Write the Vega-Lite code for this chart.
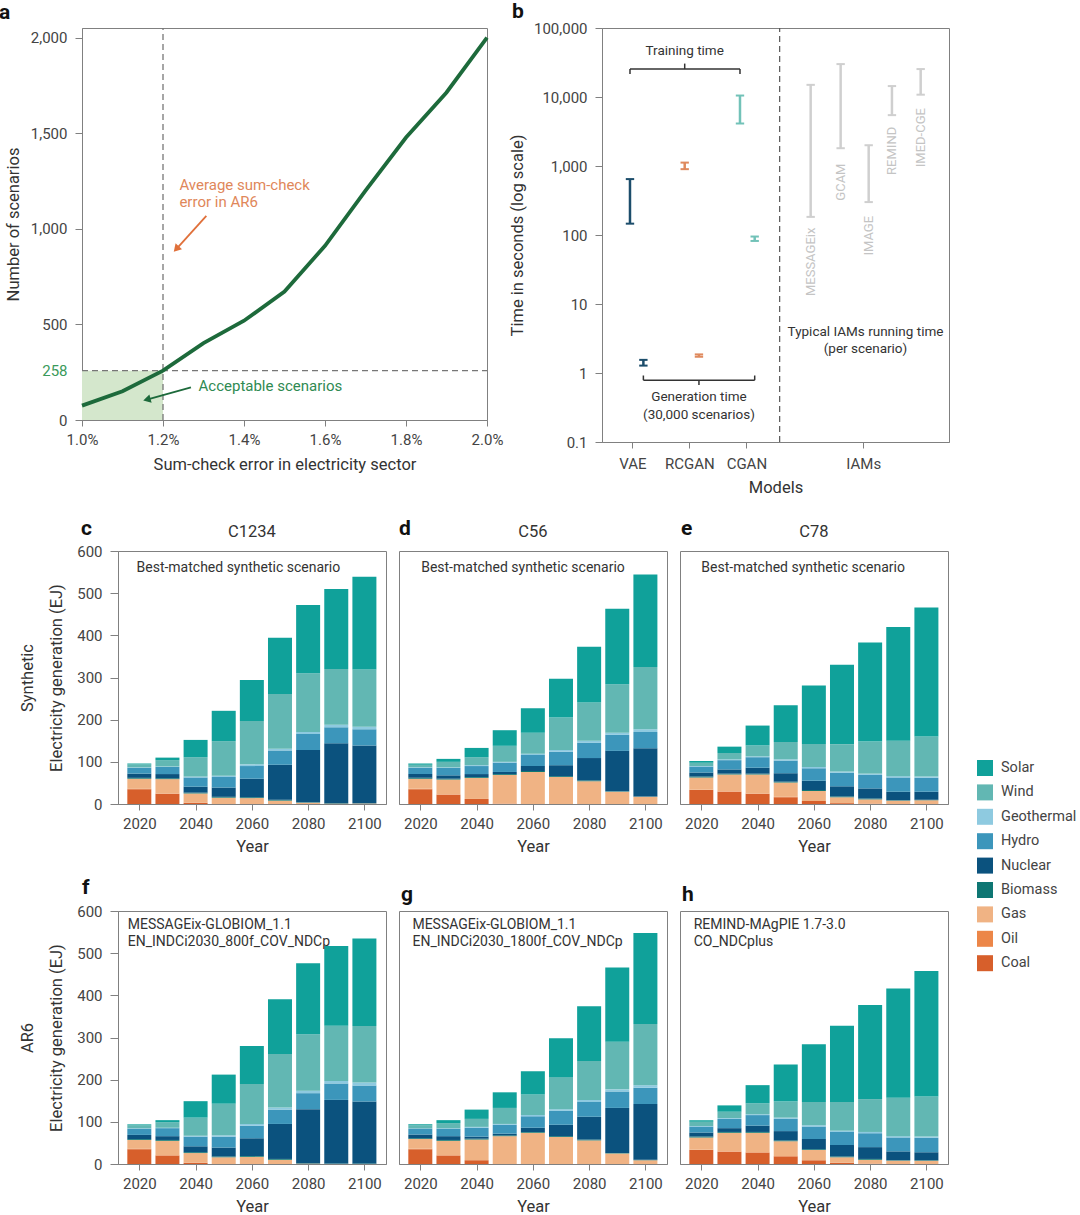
{
"$schema": "https://vega.github.io/schema/vega-lite/v6.json",
"background": "white",
"padding": {"left": -11, "top": 0, "right": 0, "bottom": 0},
"columns": 1,
"align": "none",
"spacing": 21,
"config": {
  "font": "Roboto",
  "view": {"stroke": "#808080", "strokeWidth": 1},
  "axis": {"domainColor": "#808080", "tickColor": "#808080", "labelColor": "#444444", "titleColor": "#333333", "labelFontSize": 15, "titleFontSize": 16.5, "titleFontWeight": "normal", "grid": false, "labelFlush": false},
  "title": {"fontSize": 21, "fontWeight": "bold", "anchor": "start", "frame": "group", "color": "#111111", "baseline": "alphabetic"},
  "text": {"color": "#333333"}
},
"datasets": {
  "sources": [
    {"Source": "Coal", "rank": 1}, {"Source": "Oil", "rank": 2}, {"Source": "Gas", "rank": 3},
    {"Source": "Biomass", "rank": 4}, {"Source": "Nuclear", "rank": 5}, {"Source": "Hydro", "rank": 6},
    {"Source": "Geothermal", "rank": 7}, {"Source": "Wind", "rank": 8}, {"Source": "Solar", "rank": 9}
  ],
  "bars": [
    {"p":"c","Year":2020,"Coal":35,"Oil":1,"Gas":24,"Biomass":2,"Nuclear":10,"Hydro":14,"Geothermal":1,"Wind":7,"Solar":2},
    {"p":"c","Year":2030,"Coal":24,"Oil":1,"Gas":34,"Biomass":2,"Nuclear":10,"Hydro":17,"Geothermal":1,"Wind":15,"Solar":6},
    {"p":"c","Year":2040,"Coal":3,"Oil":0,"Gas":22,"Biomass":2,"Nuclear":14,"Hydro":22,"Geothermal":2,"Wind":46,"Solar":41},
    {"p":"c","Year":2050,"Coal":0,"Oil":0,"Gas":15,"Biomass":2,"Nuclear":22,"Hydro":25,"Geothermal":3,"Wind":82,"Solar":72},
    {"p":"c","Year":2060,"Coal":0,"Oil":0,"Gas":14,"Biomass":2,"Nuclear":44,"Hydro":30,"Geothermal":4,"Wind":103,"Solar":97},
    {"p":"c","Year":2070,"Coal":0,"Oil":0,"Gas":8,"Biomass":2,"Nuclear":83,"Hydro":34,"Geothermal":4,"Wind":130,"Solar":133},
    {"p":"c","Year":2080,"Coal":0,"Oil":0,"Gas":3,"Biomass":1,"Nuclear":124,"Hydro":38,"Geothermal":5,"Wind":139,"Solar":162},
    {"p":"c","Year":2090,"Coal":0,"Oil":0,"Gas":1,"Biomass":1,"Nuclear":142,"Hydro":38,"Geothermal":6,"Wind":132,"Solar":190},
    {"p":"c","Year":2100,"Coal":0,"Oil":0,"Gas":1,"Biomass":1,"Nuclear":137,"Hydro":38,"Geothermal":6,"Wind":136,"Solar":220},
    {"p":"d","Year":2020,"Coal":35,"Oil":1,"Gas":24,"Biomass":2,"Nuclear":9,"Hydro":15,"Geothermal":1,"Wind":6,"Solar":3},
    {"p":"d","Year":2030,"Coal":22,"Oil":1,"Gas":35,"Biomass":2,"Nuclear":8,"Hydro":18,"Geothermal":1,"Wind":13,"Solar":7},
    {"p":"d","Year":2040,"Coal":12,"Oil":0,"Gas":50,"Biomass":2,"Nuclear":7,"Hydro":19,"Geothermal":2,"Wind":19,"Solar":22},
    {"p":"d","Year":2050,"Coal":1,"Oil":0,"Gas":68,"Biomass":2,"Nuclear":5,"Hydro":22,"Geothermal":2,"Wind":38,"Solar":37},
    {"p":"d","Year":2060,"Coal":0,"Oil":0,"Gas":76,"Biomass":2,"Nuclear":12,"Hydro":26,"Geothermal":3,"Wind":50,"Solar":58},
    {"p":"d","Year":2070,"Coal":0,"Oil":0,"Gas":64,"Biomass":2,"Nuclear":26,"Hydro":32,"Geothermal":4,"Wind":77,"Solar":92},
    {"p":"d","Year":2080,"Coal":0,"Oil":0,"Gas":54,"Biomass":2,"Nuclear":53,"Hydro":36,"Geothermal":5,"Wind":91,"Solar":132},
    {"p":"d","Year":2090,"Coal":0,"Oil":0,"Gas":29,"Biomass":1,"Nuclear":96,"Hydro":38,"Geothermal":5,"Wind":115,"Solar":179},
    {"p":"d","Year":2100,"Coal":0,"Oil":0,"Gas":17,"Biomass":1,"Nuclear":114,"Hydro":39,"Geothermal":6,"Wind":148,"Solar":219},
    {"p":"e","Year":2020,"Coal":33,"Oil":1,"Gas":29,"Biomass":2,"Nuclear":10,"Hydro":14,"Geothermal":1,"Wind":8,"Solar":4},
    {"p":"e","Year":2030,"Coal":29,"Oil":1,"Gas":40,"Biomass":2,"Nuclear":10,"Hydro":22,"Geothermal":2,"Wind":15,"Solar":15},
    {"p":"e","Year":2040,"Coal":24,"Oil":1,"Gas":45,"Biomass":2,"Nuclear":14,"Hydro":25,"Geothermal":2,"Wind":26,"Solar":47},
    {"p":"e","Year":2050,"Coal":16,"Oil":1,"Gas":34,"Biomass":2,"Nuclear":20,"Hydro":30,"Geothermal":3,"Wind":41,"Solar":87},
    {"p":"e","Year":2060,"Coal":7,"Oil":0,"Gas":24,"Biomass":2,"Nuclear":22,"Hydro":30,"Geothermal":3,"Wind":54,"Solar":139},
    {"p":"e","Year":2070,"Coal":2,"Oil":0,"Gas":14,"Biomass":2,"Nuclear":24,"Hydro":32,"Geothermal":3,"Wind":65,"Solar":188},
    {"p":"e","Year":2080,"Coal":1,"Oil":0,"Gas":10,"Biomass":2,"Nuclear":24,"Hydro":32,"Geothermal":3,"Wind":76,"Solar":235},
    {"p":"e","Year":2090,"Coal":0,"Oil":0,"Gas":8,"Biomass":1,"Nuclear":20,"Hydro":34,"Geothermal":3,"Wind":84,"Solar":270},
    {"p":"e","Year":2100,"Coal":0,"Oil":0,"Gas":9,"Biomass":1,"Nuclear":19,"Hydro":33,"Geothermal":3,"Wind":95,"Solar":306},
    {"p":"f","Year":2020,"Coal":35,"Oil":1,"Gas":21,"Biomass":2,"Nuclear":10,"Hydro":15,"Geothermal":1,"Wind":7,"Solar":2},
    {"p":"f","Year":2030,"Coal":20,"Oil":1,"Gas":34,"Biomass":2,"Nuclear":9,"Hydro":19,"Geothermal":1,"Wind":13,"Solar":5},
    {"p":"f","Year":2040,"Coal":3,"Oil":0,"Gas":23,"Biomass":2,"Nuclear":14,"Hydro":23,"Geothermal":2,"Wind":43,"Solar":39},
    {"p":"f","Year":2050,"Coal":0,"Oil":0,"Gas":16,"Biomass":2,"Nuclear":21,"Hydro":26,"Geothermal":3,"Wind":75,"Solar":69},
    {"p":"f","Year":2060,"Coal":0,"Oil":0,"Gas":17,"Biomass":2,"Nuclear":42,"Hydro":30,"Geothermal":4,"Wind":95,"Solar":90},
    {"p":"f","Year":2070,"Coal":0,"Oil":0,"Gas":10,"Biomass":2,"Nuclear":83,"Hydro":34,"Geothermal":5,"Wind":127,"Solar":130},
    {"p":"f","Year":2080,"Coal":0,"Oil":0,"Gas":1,"Biomass":1,"Nuclear":128,"Hydro":38,"Geothermal":6,"Wind":134,"Solar":168},
    {"p":"f","Year":2090,"Coal":0,"Oil":0,"Gas":0,"Biomass":1,"Nuclear":151,"Hydro":39,"Geothermal":6,"Wind":131,"Solar":189},
    {"p":"f","Year":2100,"Coal":0,"Oil":0,"Gas":0,"Biomass":1,"Nuclear":147,"Hydro":38,"Geothermal":7,"Wind":134,"Solar":208},
    {"p":"g","Year":2020,"Coal":35,"Oil":1,"Gas":23,"Biomass":2,"Nuclear":9,"Hydro":14,"Geothermal":1,"Wind":7,"Solar":2},
    {"p":"g","Year":2030,"Coal":20,"Oil":1,"Gas":34,"Biomass":2,"Nuclear":9,"Hydro":18,"Geothermal":1,"Wind":12,"Solar":7},
    {"p":"g","Year":2040,"Coal":9,"Oil":0,"Gas":49,"Biomass":2,"Nuclear":5,"Hydro":21,"Geothermal":2,"Wind":19,"Solar":22},
    {"p":"g","Year":2050,"Coal":0,"Oil":0,"Gas":66,"Biomass":2,"Nuclear":4,"Hydro":21,"Geothermal":2,"Wind":38,"Solar":37},
    {"p":"g","Year":2060,"Coal":0,"Oil":0,"Gas":74,"Biomass":2,"Nuclear":10,"Hydro":27,"Geothermal":3,"Wind":49,"Solar":55},
    {"p":"g","Year":2070,"Coal":0,"Oil":0,"Gas":64,"Biomass":2,"Nuclear":27,"Hydro":33,"Geothermal":4,"Wind":76,"Solar":92},
    {"p":"g","Year":2080,"Coal":0,"Oil":0,"Gas":56,"Biomass":2,"Nuclear":54,"Hydro":35,"Geothermal":5,"Wind":92,"Solar":130},
    {"p":"g","Year":2090,"Coal":0,"Oil":0,"Gas":25,"Biomass":1,"Nuclear":107,"Hydro":39,"Geothermal":5,"Wind":113,"Solar":176},
    {"p":"g","Year":2100,"Coal":0,"Oil":0,"Gas":9,"Biomass":1,"Nuclear":132,"Hydro":39,"Geothermal":6,"Wind":145,"Solar":216},
    {"p":"h","Year":2020,"Coal":33,"Oil":1,"Gas":29,"Biomass":2,"Nuclear":10,"Hydro":14,"Geothermal":1,"Wind":10,"Solar":4},
    {"p":"h","Year":2030,"Coal":29,"Oil":1,"Gas":44,"Biomass":2,"Nuclear":9,"Hydro":22,"Geothermal":2,"Wind":15,"Solar":15},
    {"p":"h","Year":2040,"Coal":27,"Oil":1,"Gas":46,"Biomass":2,"Nuclear":15,"Hydro":25,"Geothermal":2,"Wind":26,"Solar":43},
    {"p":"h","Year":2050,"Coal":18,"Oil":1,"Gas":35,"Biomass":2,"Nuclear":22,"Hydro":29,"Geothermal":3,"Wind":38,"Solar":88},
    {"p":"h","Year":2060,"Coal":9,"Oil":0,"Gas":24,"Biomass":2,"Nuclear":24,"Hydro":30,"Geothermal":3,"Wind":55,"Solar":137},
    {"p":"h","Year":2070,"Coal":3,"Oil":0,"Gas":13,"Biomass":2,"Nuclear":27,"Hydro":31,"Geothermal":3,"Wind":68,"Solar":181},
    {"p":"h","Year":2080,"Coal":1,"Oil":0,"Gas":9,"Biomass":2,"Nuclear":28,"Hydro":33,"Geothermal":3,"Wind":78,"Solar":223},
    {"p":"h","Year":2090,"Coal":0,"Oil":0,"Gas":8,"Biomass":1,"Nuclear":21,"Hydro":33,"Geothermal":3,"Wind":91,"Solar":259},
    {"p":"h","Year":2100,"Coal":0,"Oil":0,"Gas":8,"Biomass":1,"Nuclear":19,"Hydro":34,"Geothermal":3,"Wind":95,"Solar":298}
  ],
  "runtime": [
    {"g":"VAE","m":0.958,"t":146,"t2":646},
    {"g":"VAE","m":1.193,"t":1.28,"t2":1.55},
    {"g":"RCGAN","m":1.918,"t":900,"t2":1120},
    {"g":"RCGAN","m":2.168,"t":1.72,"t2":1.86},
    {"g":"CGAN","m":2.888,"t":4130,"t2":10500},
    {"g":"CGAN","m":3.146,"t":82,"t2":95},
    {"g":"IAM","m":4.128,"t":183,"t2":15000},
    {"g":"IAM","m":4.654,"t":1810,"t2":30000},
    {"g":"IAM","m":5.146,"t":300,"t2":2000},
    {"g":"IAM","m":5.554,"t":5460,"t2":14400},
    {"g":"IAM","m":6.058,"t":10800,"t2":25400}
  ]
},
"concat": [
  {"spacing": 4, "hconcat": [
    {"width": 3, "height": 1, "view": {"stroke": "white"}, "data": {"values": []}, "mark": "point"},
    {"width": 405, "height": 392,
     "title": {"text": "a", "dx": -83, "offset": 4},
     "layer": [
      {"data": {"values": [{"err": 1.0, "err2": 1.2, "n": 0, "n2": 258}]},
       "mark": {"type": "rect", "color": "#d4e7cc"},
       "encoding": {
        "x": {"field": "err", "type": "quantitative", "scale": {"domain": [1, 2], "nice": false, "zero": false},
              "axis": {"values": [1, 1.2, 1.4, 1.6, 1.8, 2], "labelExpr": "format(datum.value, '.1f') + '%'", "title": "Sum-check error in electricity sector", "tickSize": 6, "labelPadding": 6, "titlePadding": 9}},
        "x2": {"field": "err2"},
        "y": {"field": "n", "type": "quantitative", "scale": {"domain": [0, 2050], "nice": false},
              "axis": {"values": [0, 258, 500, 1000, 1500, 2000], "format": ",d", "title": "Number of scenarios", "tickSize": 7, "labelPadding": 8, "titlePadding": 9,
                       "labelColor": {"condition": {"test": "datum.value == 258", "value": "#3a9a5b"}, "value": "#444444"},
                       "tickOpacity": {"condition": {"test": "datum.value == 258", "value": 0}, "value": 1}}},
        "y2": {"field": "n2"}}},
      {"data": {"values": [{"err": 1.2, "err2": 1.2, "n": 0, "n2": 2050}, {"err": 1.0, "err2": 2.0, "n": 258, "n2": 258}]},
       "mark": {"type": "rule", "color": "#777777", "strokeDash": [6, 4], "strokeWidth": 1.3},
       "encoding": {"x": {"field": "err", "type": "quantitative"}, "x2": {"field": "err2"}, "y": {"field": "n", "type": "quantitative"}, "y2": {"field": "n2"}}},
      {"data": {"values": [
         {"err": 1.0, "n": 75}, {"err": 1.1, "n": 150}, {"err": 1.2, "n": 258}, {"err": 1.3, "n": 402},
         {"err": 1.4, "n": 519}, {"err": 1.5, "n": 672}, {"err": 1.6, "n": 911}, {"err": 1.7, "n": 1200},
         {"err": 1.8, "n": 1477}, {"err": 1.9, "n": 1713}, {"err": 2.0, "n": 2000}]},
       "mark": {"type": "line", "color": "#1d6a3b", "strokeWidth": 3.8},
       "encoding": {"x": {"field": "err", "type": "quantitative"}, "y": {"field": "n", "type": "quantitative"}}},
      {"data": {"values": [{"err": 1.307, "err2": 1.2328, "n": 1068, "n2": 894}]},
       "mark": {"type": "rule", "color": "#e0703a", "strokeWidth": 1.8},
       "encoding": {"x": {"field": "err", "type": "quantitative"}, "x2": {"field": "err2"}, "y": {"field": "n", "type": "quantitative"}, "y2": {"field": "n2"}}},
      {"data": {"values": [{"err": 1.2328, "n": 894}]},
       "mark": {"type": "point", "shape": "triangle-up", "filled": true, "size": 75, "angle": 222, "color": "#e0703a", "opacity": 1},
       "encoding": {"x": {"field": "err", "type": "quantitative"}, "y": {"field": "n", "type": "quantitative"}}},
      {"data": {"values": [{"err": 1.269, "err2": 1.1602, "n": 170, "n2": 107}]},
       "mark": {"type": "rule", "color": "#1d6a3b", "strokeWidth": 1.8},
       "encoding": {"x": {"field": "err", "type": "quantitative"}, "x2": {"field": "err2"}, "y": {"field": "n", "type": "quantitative"}, "y2": {"field": "n2"}}},
      {"data": {"values": [{"err": 1.1602, "n": 107}]},
       "mark": {"type": "point", "shape": "triangle-up", "filled": true, "size": 75, "angle": 255, "color": "#1d6a3b", "opacity": 1},
       "encoding": {"x": {"field": "err", "type": "quantitative"}, "y": {"field": "n", "type": "quantitative"}}},
      {"data": {"values": [{"err": 1.2405, "n": 1230, "s": "Average sum-check"}, {"err": 1.2405, "n": 1141, "s": "error in AR6"}]},
       "mark": {"type": "text", "align": "left", "baseline": "middle", "fontSize": 15, "color": "#e0875a"},
       "encoding": {"x": {"field": "err", "type": "quantitative"}, "y": {"field": "n", "type": "quantitative"}, "text": {"field": "s"}}},
      {"data": {"values": [{"err": 1.2877, "n": 180, "s": "Acceptable scenarios"}]},
       "mark": {"type": "text", "align": "left", "baseline": "middle", "fontSize": 15, "color": "#2f8a52"},
       "encoding": {"x": {"field": "err", "type": "quantitative"}, "y": {"field": "n", "type": "quantitative"}, "text": {"field": "s"}}}
     ]},
    {"width": 347, "height": 414,
     "title": {"text": "b", "dx": -90, "offset": -1},
     "layer": [
      {"data": {"values": [{"m": 3.584, "t": 0.1, "t2": 100000}]},
       "mark": {"type": "rule", "color": "#555555", "strokeDash": [6, 4], "strokeWidth": 1.2},
       "encoding": {
        "x": {"field": "m", "type": "quantitative", "scale": {"domain": [0.467, 6.555], "nice": false, "zero": false},
              "axis": {"values": [1, 2, 3, 5.05], "labelExpr": "datum.value < 1.5 ? 'VAE' : datum.value < 2.5 ? 'RCGAN' : datum.value < 4 ? 'CGAN' : 'IAMs'", "title": "Models", "tickSize": 6, "labelPadding": 8, "titlePadding": 8}},
        "y": {"field": "t", "type": "quantitative", "scale": {"type": "log", "domain": [0.1, 100000], "nice": false},
              "axis": {"values": [0.1, 1, 10, 100, 1000, 10000, 100000], "format": ",.1~f", "title": "Time in seconds (log scale)", "tickSize": 7, "labelPadding": 8, "titlePadding": 8}},
        "y2": {"field": "t2"}}},
      {"data": {"values": [
         {"m": 0.958, "m2": 2.888, "t": 25400, "t2": 25400},
         {"m": 0.958, "m2": 0.958, "t": 25400, "t2": 21500},
         {"m": 2.888, "m2": 2.888, "t": 25400, "t2": 21500},
         {"m": 1.918, "m2": 1.918, "t": 25400, "t2": 30500},
         {"m": 1.193, "m2": 3.146, "t": 0.787, "t2": 0.787},
         {"m": 1.193, "m2": 1.193, "t": 0.787, "t2": 0.92},
         {"m": 3.146, "m2": 3.146, "t": 0.787, "t2": 0.92},
         {"m": 2.168, "m2": 2.168, "t": 0.787, "t2": 0.67}]},
       "mark": {"type": "rule", "color": "#333333", "strokeWidth": 1.5},
       "encoding": {"x": {"field": "m", "type": "quantitative"}, "x2": {"field": "m2"}, "y": {"field": "t", "type": "quantitative"}, "y2": {"field": "t2"}}},
      {"data": {"name": "runtime"},
       "mark": {"type": "rule", "strokeWidth": 2.5},
       "encoding": {"x": {"field": "m", "type": "quantitative"}, "y": {"field": "t", "type": "quantitative"}, "y2": {"field": "t2"},
        "stroke": {"field": "g", "type": "nominal", "scale": {"domain": ["VAE", "RCGAN", "CGAN", "IAM"], "range": ["#1c4d6b", "#df8a5e", "#72c2b8", "#cfcfcf"]}, "legend": null}}},
      {"data": {"name": "runtime"},
       "mark": {"type": "point", "shape": "stroke", "size": 70, "strokeWidth": 2, "opacity": 1},
       "encoding": {"x": {"field": "m", "type": "quantitative"}, "y": {"field": "t", "type": "quantitative"},
        "stroke": {"field": "g", "type": "nominal", "legend": null}}},
      {"data": {"name": "runtime"},
       "mark": {"type": "point", "shape": "stroke", "size": 70, "strokeWidth": 2, "opacity": 1},
       "encoding": {"x": {"field": "m", "type": "quantitative"}, "y": {"field": "t2", "type": "quantitative"},
        "stroke": {"field": "g", "type": "nominal", "legend": null}}},
      {"data": {"values": [
         {"m": 4.128, "t": 128, "s": "MESSAGEix"}, {"m": 4.654, "t": 1086, "s": "GCAM"}, {"m": 5.146, "t": 189, "s": "IMAGE"},
         {"m": 5.554, "t": 3700, "s": "REMIND"}, {"m": 6.058, "t": 6900, "s": "IMED-CGE"}]},
       "mark": {"type": "text", "angle": 270, "align": "right", "baseline": "middle", "fontSize": 13, "color": "#c4c4c4"},
       "encoding": {"x": {"field": "m", "type": "quantitative"}, "y": {"field": "t", "type": "quantitative"}, "text": {"field": "s"}}},
      {"data": {"values": [
         {"m": 1.918, "t": 46900, "s": "Training time"},
         {"m": 2.168, "t": 0.45, "s": "Generation time"},
         {"m": 2.168, "t": 0.25, "s": "(30,000 scenarios)"},
         {"m": 5.09, "t": 3.98, "s": "Typical IAMs running time"},
         {"m": 5.09, "t": 2.25, "s": "(per scenario)"}]},
       "mark": {"type": "text", "baseline": "middle", "fontSize": 13.5, "color": "#333333"},
       "encoding": {"x": {"field": "m", "type": "quantitative"}, "y": {"field": "t", "type": "quantitative"}, "text": {"field": "s"}}}
     ]}
  ]},
  {"spacing": 11, "hconcat": [
    {"width": 17, "height": 1, "view": {"stroke": "white"}, "data": {"values": []}, "mark": "point"},
    {"width": 268, "height": 253,
     "title": {"text": "c", "dx": -37, "offset": -15},
     "layer": [
      {"data": {"name": "bars"},
       "transform": [{"filter": "datum.p == 'c'"}, {"fold": ["Coal", "Oil", "Gas", "Biomass", "Nuclear", "Hydro", "Geothermal", "Wind", "Solar"], "as": ["Source", "EJ"]},
                     {"lookup": "Source", "from": {"data": {"name": "sources"}, "key": "Source", "fields": ["rank"]}}],
       "mark": {"type": "bar", "size": 24},
       "encoding": {
        "x": {"field": "Year", "type": "quantitative", "scale": {"domain": [2014.2, 2105.9], "nice": false, "zero": false},
              "axis": {"values": [2020, 2040, 2060, 2080, 2100], "format": "d", "title": "Year", "tickSize": 6, "labelPadding": 6, "titlePadding": 7}},
        "y": {"field": "EJ", "type": "quantitative", "stack": "zero", "scale": {"domain": [0, 600], "nice": false},
              "axis": {"values": [0, 100, 200, 300, 400, 500, 600], "title": ["Synthetic", "Electricity generation (EJ)"], "titleLineHeight": 29, "tickSize": 8, "labelPadding": 8, "titlePadding": 12}},
        "order": {"field": "rank", "type": "quantitative", "sort": "ascending"},
        "color": {"field": "Source", "type": "nominal",
                  "scale": {"domain": ["Solar", "Wind", "Geothermal", "Hydro", "Nuclear", "Biomass", "Gas", "Oil", "Coal"], "range": ["#10a19a", "#62b7b3", "#8ecae0", "#3c96bb", "#0b527e", "#0e7673", "#f0b384", "#ec8648", "#d75f2b"]},
                  "legend": {"orient": "none", "legendX": 987, "legendY": 732, "title": null, "symbolType": "square", "symbolSize": 256, "symbolStrokeWidth": 0, "labelFontSize": 14.5, "labelColor": "#444444", "rowPadding": 8.4, "labelOffset": 8, "padding": 0}}}},
      {"data": {"values": [{"Year": 2019, "EJ": 560, "s": "Best-matched synthetic scenario"}]},
       "mark": {"type": "text", "align": "left", "baseline": "middle", "fontSize": 14},
       "encoding": {"x": {"field": "Year", "type": "quantitative"}, "y": {"field": "EJ", "type": "quantitative"}, "text": {"field": "s"}}},
      {"data": {"values": [{"Year": 2060, "EJ": 600, "s": "C1234"}]},
       "mark": {"type": "text", "baseline": "alphabetic", "dy": -14, "fontSize": 16.5},
       "encoding": {"x": {"field": "Year", "type": "quantitative"}, "y": {"field": "EJ", "type": "quantitative"}, "text": {"field": "s"}}}
     ]},
    {"width": 268, "height": 253,
     "title": {"text": "d", "dx": 0, "offset": -15},
     "layer": [
      {"data": {"name": "bars"},
       "transform": [{"filter": "datum.p == 'd'"}, {"fold": ["Coal", "Oil", "Gas", "Biomass", "Nuclear", "Hydro", "Geothermal", "Wind", "Solar"], "as": ["Source", "EJ"]},
                     {"lookup": "Source", "from": {"data": {"name": "sources"}, "key": "Source", "fields": ["rank"]}}],
       "mark": {"type": "bar", "size": 24},
       "encoding": {
        "x": {"field": "Year", "type": "quantitative", "scale": {"domain": [2014.2, 2105.9], "nice": false, "zero": false},
              "axis": {"values": [2020, 2040, 2060, 2080, 2100], "format": "d", "title": "Year", "tickSize": 6, "labelPadding": 6, "titlePadding": 7}},
        "y": {"field": "EJ", "type": "quantitative", "stack": "zero", "scale": {"domain": [0, 600], "nice": false}, "axis": null},
        "order": {"field": "rank", "type": "quantitative", "sort": "ascending"},
        "color": {"field": "Source", "type": "nominal",
                  "scale": {"domain": ["Solar", "Wind", "Geothermal", "Hydro", "Nuclear", "Biomass", "Gas", "Oil", "Coal"], "range": ["#10a19a", "#62b7b3", "#8ecae0", "#3c96bb", "#0b527e", "#0e7673", "#f0b384", "#ec8648", "#d75f2b"]},
                  "legend": {"orient": "none", "legendX": 987, "legendY": 732, "title": null, "symbolType": "square", "symbolSize": 256, "symbolStrokeWidth": 0, "labelFontSize": 14.5, "labelColor": "#444444", "rowPadding": 8.4, "labelOffset": 8, "padding": 0}}}},
      {"data": {"values": [{"Year": 2020.3, "EJ": 560, "s": "Best-matched synthetic scenario"}]},
       "mark": {"type": "text", "align": "left", "baseline": "middle", "fontSize": 14},
       "encoding": {"x": {"field": "Year", "type": "quantitative"}, "y": {"field": "EJ", "type": "quantitative"}, "text": {"field": "s"}}},
      {"data": {"values": [{"Year": 2060, "EJ": 600, "s": "C56"}]},
       "mark": {"type": "text", "baseline": "alphabetic", "dy": -14, "fontSize": 16.5},
       "encoding": {"x": {"field": "Year", "type": "quantitative"}, "y": {"field": "EJ", "type": "quantitative"}, "text": {"field": "s"}}}
     ]},
    {"width": 268, "height": 253,
     "title": {"text": "e", "dx": 1, "offset": -15},
     "layer": [
      {"data": {"name": "bars"},
       "transform": [{"filter": "datum.p == 'e'"}, {"fold": ["Coal", "Oil", "Gas", "Biomass", "Nuclear", "Hydro", "Geothermal", "Wind", "Solar"], "as": ["Source", "EJ"]},
                     {"lookup": "Source", "from": {"data": {"name": "sources"}, "key": "Source", "fields": ["rank"]}}],
       "mark": {"type": "bar", "size": 24},
       "encoding": {
        "x": {"field": "Year", "type": "quantitative", "scale": {"domain": [2014.2, 2105.9], "nice": false, "zero": false},
              "axis": {"values": [2020, 2040, 2060, 2080, 2100], "format": "d", "title": "Year", "tickSize": 6, "labelPadding": 6, "titlePadding": 7}},
        "y": {"field": "EJ", "type": "quantitative", "stack": "zero", "scale": {"domain": [0, 600], "nice": false}, "axis": null},
        "order": {"field": "rank", "type": "quantitative", "sort": "ascending"},
        "color": {"field": "Source", "type": "nominal",
                  "scale": {"domain": ["Solar", "Wind", "Geothermal", "Hydro", "Nuclear", "Biomass", "Gas", "Oil", "Coal"], "range": ["#10a19a", "#62b7b3", "#8ecae0", "#3c96bb", "#0b527e", "#0e7673", "#f0b384", "#ec8648", "#d75f2b"]},
                  "legend": {"orient": "none", "legendX": 987, "legendY": 732, "title": null, "symbolType": "square", "symbolSize": 256, "symbolStrokeWidth": 0, "labelFontSize": 14.5, "labelColor": "#444444", "rowPadding": 8.4, "labelOffset": 8, "padding": 0}}}},
      {"data": {"values": [{"Year": 2020.0, "EJ": 560, "s": "Best-matched synthetic scenario"}]},
       "mark": {"type": "text", "align": "left", "baseline": "middle", "fontSize": 14},
       "encoding": {"x": {"field": "Year", "type": "quantitative"}, "y": {"field": "EJ", "type": "quantitative"}, "text": {"field": "s"}}},
      {"data": {"values": [{"Year": 2060, "EJ": 600, "s": "C78"}]},
       "mark": {"type": "text", "baseline": "alphabetic", "dy": -14, "fontSize": 16.5},
       "encoding": {"x": {"field": "Year", "type": "quantitative"}, "y": {"field": "EJ", "type": "quantitative"}, "text": {"field": "s"}}}
     ]}
  ]},
  {"spacing": 11, "hconcat": [
    {"width": 17, "height": 1, "view": {"stroke": "white"}, "data": {"values": []}, "mark": "point"},
    {"width": 268, "height": 253,
     "title": {"text": "f", "dx": -36, "offset": 6},
     "layer": [
      {"data": {"name": "bars"},
       "transform": [{"filter": "datum.p == 'f'"}, {"fold": ["Coal", "Oil", "Gas", "Biomass", "Nuclear", "Hydro", "Geothermal", "Wind", "Solar"], "as": ["Source", "EJ"]},
                     {"lookup": "Source", "from": {"data": {"name": "sources"}, "key": "Source", "fields": ["rank"]}}],
       "mark": {"type": "bar", "size": 24},
       "encoding": {
        "x": {"field": "Year", "type": "quantitative", "scale": {"domain": [2014.2, 2105.9], "nice": false, "zero": false},
              "axis": {"values": [2020, 2040, 2060, 2080, 2100], "format": "d", "title": "Year", "tickSize": 6, "labelPadding": 6, "titlePadding": 7}},
        "y": {"field": "EJ", "type": "quantitative", "stack": "zero", "scale": {"domain": [0, 600], "nice": false},
              "axis": {"values": [0, 100, 200, 300, 400, 500, 600], "title": ["AR6", "Electricity generation (EJ)"], "titleLineHeight": 29, "tickSize": 8, "labelPadding": 8, "titlePadding": 12}},
        "order": {"field": "rank", "type": "quantitative", "sort": "ascending"},
        "color": {"field": "Source", "type": "nominal",
                  "scale": {"domain": ["Solar", "Wind", "Geothermal", "Hydro", "Nuclear", "Biomass", "Gas", "Oil", "Coal"], "range": ["#10a19a", "#62b7b3", "#8ecae0", "#3c96bb", "#0b527e", "#0e7673", "#f0b384", "#ec8648", "#d75f2b"]},
                  "legend": {"orient": "none", "legendX": 987, "legendY": 732, "title": null, "symbolType": "square", "symbolSize": 256, "symbolStrokeWidth": 0, "labelFontSize": 14.5, "labelColor": "#444444", "rowPadding": 8.4, "labelOffset": 8, "padding": 0}}}},
      {"data": {"values": [{"Year": 2015.9, "EJ": 583, "s": "MESSAGEix-GLOBIOM_1.1\nEN_INDCi2030_800f_COV_NDCp"}]},
       "mark": {"type": "text", "align": "left", "baseline": "top", "fontSize": 14, "lineBreak": "\n", "lineHeight": 17},
       "encoding": {"x": {"field": "Year", "type": "quantitative"}, "y": {"field": "EJ", "type": "quantitative"}, "text": {"field": "s"}}}
     ]},
    {"width": 268, "height": 253,
     "title": {"text": "g", "dx": 2, "offset": 6},
     "layer": [
      {"data": {"name": "bars"},
       "transform": [{"filter": "datum.p == 'g'"}, {"fold": ["Coal", "Oil", "Gas", "Biomass", "Nuclear", "Hydro", "Geothermal", "Wind", "Solar"], "as": ["Source", "EJ"]},
                     {"lookup": "Source", "from": {"data": {"name": "sources"}, "key": "Source", "fields": ["rank"]}}],
       "mark": {"type": "bar", "size": 24},
       "encoding": {
        "x": {"field": "Year", "type": "quantitative", "scale": {"domain": [2014.2, 2105.9], "nice": false, "zero": false},
              "axis": {"values": [2020, 2040, 2060, 2080, 2100], "format": "d", "title": "Year", "tickSize": 6, "labelPadding": 6, "titlePadding": 7}},
        "y": {"field": "EJ", "type": "quantitative", "stack": "zero", "scale": {"domain": [0, 600], "nice": false}, "axis": null},
        "order": {"field": "rank", "type": "quantitative", "sort": "ascending"},
        "color": {"field": "Source", "type": "nominal",
                  "scale": {"domain": ["Solar", "Wind", "Geothermal", "Hydro", "Nuclear", "Biomass", "Gas", "Oil", "Coal"], "range": ["#10a19a", "#62b7b3", "#8ecae0", "#3c96bb", "#0b527e", "#0e7673", "#f0b384", "#ec8648", "#d75f2b"]},
                  "legend": {"orient": "none", "legendX": 987, "legendY": 732, "title": null, "symbolType": "square", "symbolSize": 256, "symbolStrokeWidth": 0, "labelFontSize": 14.5, "labelColor": "#444444", "rowPadding": 8.4, "labelOffset": 8, "padding": 0}}}},
      {"data": {"values": [{"Year": 2017.2, "EJ": 583, "s": "MESSAGEix-GLOBIOM_1.1\nEN_INDCi2030_1800f_COV_NDCp"}]},
       "mark": {"type": "text", "align": "left", "baseline": "top", "fontSize": 14, "lineBreak": "\n", "lineHeight": 17},
       "encoding": {"x": {"field": "Year", "type": "quantitative"}, "y": {"field": "EJ", "type": "quantitative"}, "text": {"field": "s"}}}
     ]},
    {"width": 268, "height": 253,
     "title": {"text": "h", "dx": 2, "offset": 6},
     "layer": [
      {"data": {"name": "bars"},
       "transform": [{"filter": "datum.p == 'h'"}, {"fold": ["Coal", "Oil", "Gas", "Biomass", "Nuclear", "Hydro", "Geothermal", "Wind", "Solar"], "as": ["Source", "EJ"]},
                     {"lookup": "Source", "from": {"data": {"name": "sources"}, "key": "Source", "fields": ["rank"]}}],
       "mark": {"type": "bar", "size": 24},
       "encoding": {
        "x": {"field": "Year", "type": "quantitative", "scale": {"domain": [2014.2, 2105.9], "nice": false, "zero": false},
              "axis": {"values": [2020, 2040, 2060, 2080, 2100], "format": "d", "title": "Year", "tickSize": 6, "labelPadding": 6, "titlePadding": 7}},
        "y": {"field": "EJ", "type": "quantitative", "stack": "zero", "scale": {"domain": [0, 600], "nice": false}, "axis": null},
        "order": {"field": "rank", "type": "quantitative", "sort": "ascending"},
        "color": {"field": "Source", "type": "nominal",
                  "scale": {"domain": ["Solar", "Wind", "Geothermal", "Hydro", "Nuclear", "Biomass", "Gas", "Oil", "Coal"], "range": ["#10a19a", "#62b7b3", "#8ecae0", "#3c96bb", "#0b527e", "#0e7673", "#f0b384", "#ec8648", "#d75f2b"]},
                  "legend": {"orient": "none", "legendX": 987, "legendY": 732, "title": null, "symbolType": "square", "symbolSize": 256, "symbolStrokeWidth": 0, "labelFontSize": 14.5, "labelColor": "#444444", "rowPadding": 8.4, "labelOffset": 8, "padding": 0}}}},
      {"data": {"values": [{"Year": 2017.3, "EJ": 583, "s": "REMIND-MAgPIE 1.7-3.0\nCO_NDCplus"}]},
       "mark": {"type": "text", "align": "left", "baseline": "top", "fontSize": 14, "lineBreak": "\n", "lineHeight": 17},
       "encoding": {"x": {"field": "Year", "type": "quantitative"}, "y": {"field": "EJ", "type": "quantitative"}, "text": {"field": "s"}}}
     ]}
  ]}
]
}
